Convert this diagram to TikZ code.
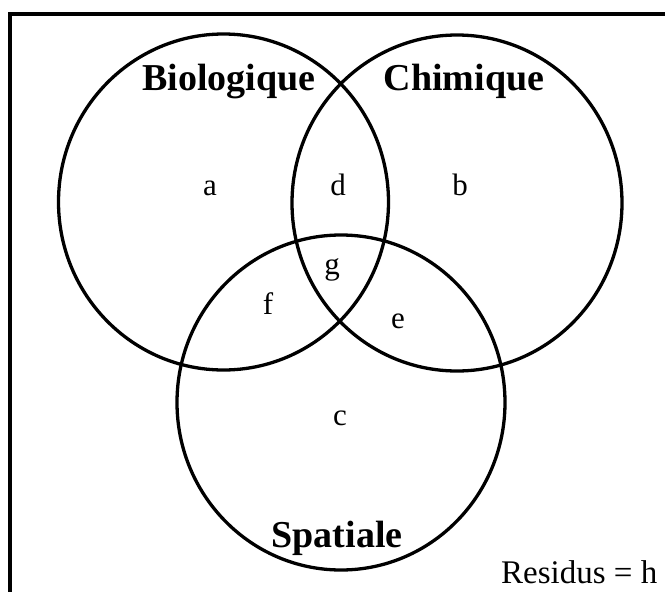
\documentclass[tikz,border=0pt]{standalone}
\usepackage{fontspec}
\setmainfont{Liberation Serif}
\begin{document}
\begin{tikzpicture}[x=1pt,y=-1pt,
  ring/.style={line width=3.3pt},
  frame/.style={line width=3.8pt},
  title/.style={font=\fontsize{38}{40}\selectfont\bfseries, anchor=base, inner sep=0pt},
  region/.style={font=\fontsize{31}{33}\selectfont, anchor=base, inner sep=0pt},
  resid/.style={font=\fontsize{33}{35}\selectfont, anchor=base west, inner sep=0pt}]
\useasboundingbox (0,0) rectangle (665,592);
\coordinate (tl) at (10,14);
\coordinate (tr) at (665,14);
\coordinate (bl) at (10,592);
\draw[frame] (tr) -- (tl) -- (bl);
\draw[ring] (223.5,202) ellipse [x radius=165, y radius=168];
\draw[ring] (457,203) ellipse [x radius=165, y radius=168];
\draw[ring] (341,402.5) ellipse [x radius=164, y radius=167.5];
\node[title] (bio) at (229,90) {Biologique};
\node[title] (chi) at (464,90) {Chimique};
\node[title] (spa) at (337,547) {Spatiale};
\node[region] (a) at (210,195) {a};
\node[region] (d) at (338,195) {d};
\node[region] (b) at (460,195) {b};
\node[region] (g) at (332,274) {g};
\node[region] (f) at (268,314) {f};
\node[region] (e) at (398,328) {e};
\node[region] (c) at (340,425) {c};
\node[resid] (res) at (501,583) {Residus = h};
\end{tikzpicture}
\end{document}
